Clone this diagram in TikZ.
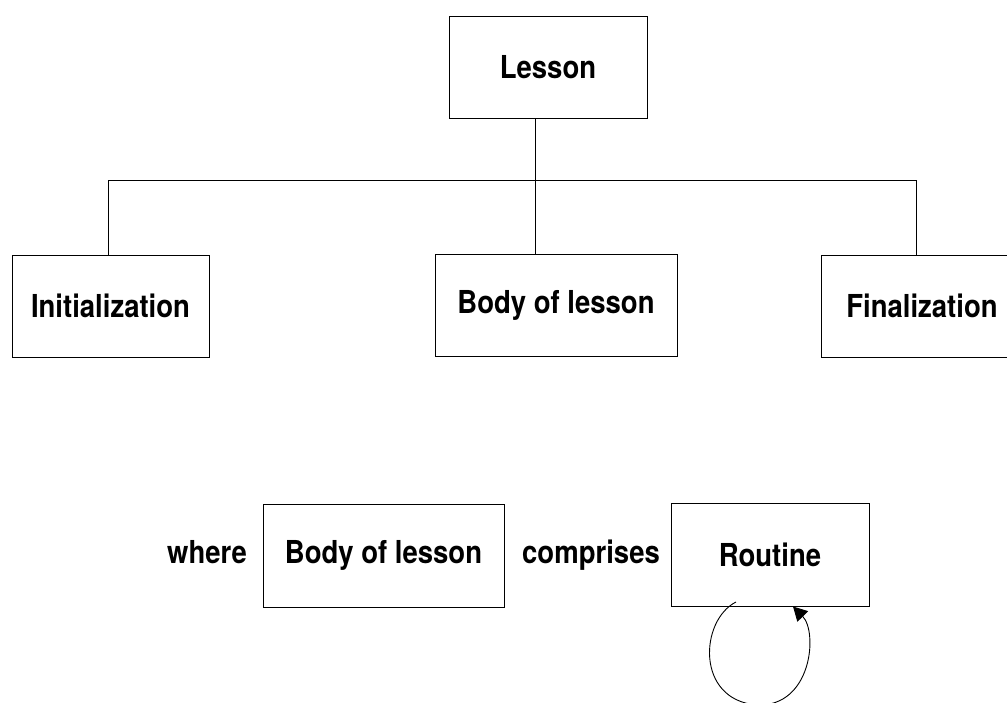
\documentclass[tikz,border=0pt]{standalone}
\usepackage{graphicx}
\usepackage{fontspec}
\setmainfont{TeX Gyre Heros}
\newcommand{\stretchtxt}[1]{\scalebox{1}[1.15]{#1}}
\usetikzlibrary{arrows.meta}
\begin{document}
\begin{tikzpicture}[x=1pt,y=-1pt,
  every node/.style={font=\bfseries\fontsize{27.5}{32}\selectfont,inner sep=0pt},
  box/.style={draw,line width=0.9pt,rectangle},
  link/.style={line width=0.9pt},
  word/.style={anchor=base}]
\useasboundingbox (0,0) rectangle (1007,703);
% lesson structure
\node[box,minimum width=198pt,minimum height=102pt] (lesson) at (548,67) {\stretchtxt{Lesson}};
\node[box,minimum width=197pt,minimum height=102pt] (init) at (110.5,306) {\stretchtxt{Initialization}};
\node[box,minimum width=242pt,minimum height=102pt] (body) at (556,305) {\stretchtxt{Body of lesson}};
\node[box,minimum width=202pt,minimum height=102pt] (fin) at (922,306) {\stretchtxt{Finalization}};
\coordinate (bar) at (535,180);
\coordinate (barl) at (108,180);
\coordinate (barr) at (916,180);
\draw[link] (bar |- lesson.south) -- (bar);
\draw[link] (barl |- init.north) -- (barl) -- (barr) -- (barr |- fin.north);
\draw[link] (bar) -- (bar |- body.north);
% definition of the body
\node[box,minimum width=241pt,minimum height=103pt] (body2) at (383.5,555.5) {\stretchtxt{Body of lesson}};
\node[word] (where) at ([xshift=-176.5pt]body2.base) {\stretchtxt{where}};
\node[box,minimum width=198pt,minimum height=103pt] (routine) at (770,554.5) {\stretchtxt{Routine}};
\node[word] (comp) at ([xshift=207.5pt]body2.base) {\stretchtxt{comprises}};
% repetition of the routine
\coordinate (loopa) at (736,602);
\coordinate (loopb) at (793,606.5);
\draw[link,-{Triangle[length=14pt,width=15pt]}] (loopa)
  .. controls (700,620) and (695,700) .. (757,705)
  .. controls (812,707) and (818,632) .. (loopb);
\end{tikzpicture}
\end{document}
